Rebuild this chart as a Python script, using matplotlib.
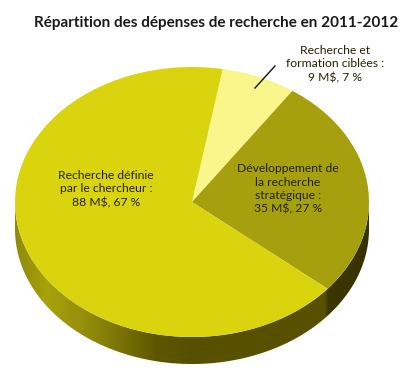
import numpy as np
import matplotlib
matplotlib.use("Agg")
import matplotlib.pyplot as plt
from matplotlib.colors import LinearSegmentedColormap
from matplotlib.patches import Polygon

title = "Répartition des dépenses de recherche en 2011-2012"
values = [9, 35, 88]
labels = [
    "Recherche et\nformation ciblées :\n9 M$, 7 %",
    "Développement de\nla recherche\nstratégique :\n35 M$, 27 %",
    "Recherche définie\npar le chercheur :\n88 M$, 67 %",
]
colors = ["#fbf68c", "#a7a00e", "#d9d40e"]

# pixel geometry of the pie
W, H = 410, 375
cx, cy = 192, 202
rx, ry = 177, 135
depth = 27

plt.rcParams["font.family"] = "Lato"
fig = plt.figure(figsize=(W / 100, H / 100), dpi=100)
ax = fig.add_axes([0, 0, 1, 1])

ax.pie(values, colors=colors, startangle=80, counterclock=False,
       wedgeprops={"linewidth": 0, "zorder": 3})
ax.set_aspect("auto")
ax.axis("off")

# side of the disc, a horizontal gradient clipped to the rim
t = np.linspace(np.pi, 2 * np.pi, 200)
x = np.cos(t)
y = np.sin(t)
off = depth / ry
rim = np.vstack([np.column_stack([x, y]), np.column_stack([x[::-1], y[::-1] - off])])
side = Polygon(rim, closed=True, facecolor="none", edgecolor="none")
ax.add_patch(side)
cmap = LinearSegmentedColormap.from_list("side", [
    (0.0, "#8f8a0a"), (0.09, "#a8a20c"), (0.22, "#8f890a"), (0.40, "#5d5600"),
    (0.50, "#575000"), (0.88, "#575000"), (0.885, "#3c3700"), (1.0, "#363200"),
])
grad = ax.imshow(np.linspace(0, 1, 400).reshape(1, -1), cmap=cmap, aspect="auto",
                 extent=[-1, 1, -1.3, 0.1], zorder=2)
grad.set_clip_path(side)
# one data unit = rx pixels across and ry pixels down
ax.set_xlim(-cx / rx, (W - cx) / rx)
ax.set_ylim(-(H - cy) / ry, cy / ry)


def px(u, v):
    return (u - cx) / rx, (cy - v) / ry


ax.text(*px(216, 23), title, ha="center", va="center", fontsize=11,
        fontweight="bold", color="#1a1a1a")
text_pos = [(335, 64), (288, 189), (106, 189)]
for lab, pos in zip(labels, text_pos):
    ax.text(*px(*pos), lab, ha="center", va="center", fontsize=8.7,
            color="#222200", linespacing=1.28, zorder=5)

p0 = px(255, 88)
p1 = px(275, 66)
ax.plot([p0[0], p1[0]], [p0[1], p1[1]], color="#111111", lw=1, zorder=5)

fig.savefig("out.png", dpi=100)
